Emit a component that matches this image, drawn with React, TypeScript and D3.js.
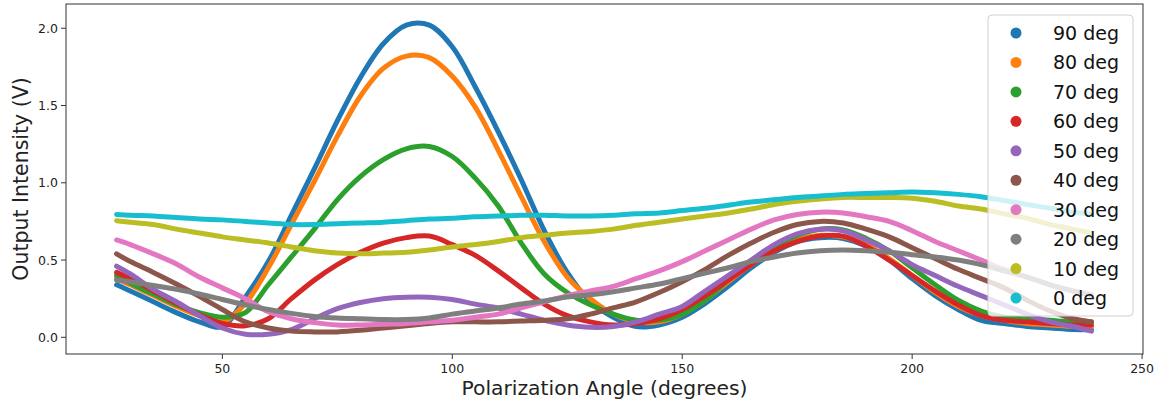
import React from "react";
import * as d3 from "d3";

const angles = [27, 30, 35, 40, 45, 50, 55, 60, 65, 70, 75, 80, 85, 90, 95, 100, 105, 110, 115, 120, 125, 130, 135, 140, 145, 150, 155, 160, 165, 170, 175, 180, 185, 190, 195, 200, 205, 210, 215, 220, 225, 230, 235, 239];

const deg90 = [0.34, 0.30, 0.23, 0.16, 0.10, 0.07, 0.26, 0.49, 0.79, 1.09, 1.40, 1.68, 1.90, 2.02, 2.02, 1.88, 1.62, 1.33, 1.02, 0.69, 0.42, 0.23, 0.13, 0.07, 0.08, 0.13, 0.22, 0.33, 0.45, 0.55, 0.62, 0.645, 0.64, 0.59, 0.50, 0.38, 0.27, 0.18, 0.11, 0.09, 0.07, 0.06, 0.05, 0.05];
const deg80 = [0.38, 0.34, 0.27, 0.20, 0.14, 0.10, 0.22, 0.45, 0.73, 1.01, 1.30, 1.56, 1.74, 1.82, 1.81, 1.69, 1.49, 1.21, 0.91, 0.62, 0.39, 0.25, 0.15, 0.10, 0.10, 0.15, 0.24, 0.36, 0.47, 0.56, 0.63, 0.66, 0.65, 0.60, 0.51, 0.40, 0.29, 0.20, 0.14, 0.11, 0.09, 0.08, 0.07, 0.07];
const deg70 = [0.40, 0.35, 0.28, 0.21, 0.16, 0.13, 0.16, 0.34, 0.52, 0.70, 0.89, 1.04, 1.15, 1.22, 1.235, 1.17, 1.03, 0.85, 0.61, 0.41, 0.29, 0.21, 0.15, 0.11, 0.11, 0.15, 0.24, 0.37, 0.49, 0.59, 0.66, 0.70, 0.695, 0.64, 0.56, 0.45, 0.34, 0.24, 0.17, 0.13, 0.12, 0.11, 0.10, 0.10];
const deg60 = [0.42, 0.38, 0.30, 0.22, 0.145, 0.09, 0.075, 0.12, 0.25, 0.37, 0.47, 0.55, 0.61, 0.645, 0.655, 0.60, 0.53, 0.43, 0.32, 0.215, 0.14, 0.10, 0.08, 0.09, 0.12, 0.18, 0.27, 0.37, 0.47, 0.56, 0.62, 0.655, 0.655, 0.59, 0.50, 0.40, 0.30, 0.21, 0.14, 0.11, 0.10, 0.09, 0.08, 0.08];
const deg50 = [0.46, 0.41, 0.31, 0.23, 0.14, 0.06, 0.02, 0.02, 0.05, 0.12, 0.185, 0.225, 0.25, 0.26, 0.26, 0.245, 0.215, 0.19, 0.15, 0.11, 0.08, 0.065, 0.07, 0.10, 0.15, 0.20, 0.30, 0.40, 0.50, 0.60, 0.67, 0.70, 0.69, 0.63, 0.56, 0.47, 0.40, 0.33, 0.27, 0.21, 0.15, 0.10, 0.07, 0.04];
const deg40 = [0.54, 0.49, 0.42, 0.345, 0.265, 0.18, 0.10, 0.06, 0.04, 0.035, 0.035, 0.045, 0.06, 0.075, 0.09, 0.10, 0.10, 0.10, 0.105, 0.11, 0.12, 0.15, 0.19, 0.23, 0.29, 0.36, 0.44, 0.53, 0.61, 0.68, 0.73, 0.75, 0.74, 0.70, 0.65, 0.58, 0.51, 0.44, 0.38, 0.32, 0.24, 0.17, 0.12, 0.10];
const deg30 = [0.63, 0.60, 0.54, 0.475, 0.39, 0.32, 0.25, 0.165, 0.12, 0.095, 0.08, 0.08, 0.085, 0.09, 0.10, 0.11, 0.13, 0.15, 0.19, 0.23, 0.27, 0.30, 0.33, 0.38, 0.43, 0.49, 0.56, 0.63, 0.70, 0.76, 0.795, 0.81, 0.805, 0.78, 0.75, 0.69, 0.62, 0.56, 0.50, 0.44, 0.39, 0.34, 0.30, 0.28];
const deg20 = [0.37, 0.36, 0.335, 0.31, 0.28, 0.245, 0.21, 0.18, 0.155, 0.135, 0.125, 0.12, 0.115, 0.115, 0.125, 0.15, 0.17, 0.19, 0.215, 0.235, 0.26, 0.275, 0.295, 0.32, 0.345, 0.38, 0.415, 0.45, 0.49, 0.52, 0.545, 0.56, 0.565, 0.56, 0.55, 0.535, 0.52, 0.50, 0.47, 0.43, 0.39, 0.34, 0.30, 0.27];
const deg10 = [0.755, 0.745, 0.73, 0.70, 0.675, 0.65, 0.63, 0.61, 0.585, 0.56, 0.545, 0.54, 0.545, 0.55, 0.565, 0.585, 0.60, 0.62, 0.645, 0.66, 0.675, 0.685, 0.70, 0.725, 0.745, 0.765, 0.785, 0.805, 0.83, 0.86, 0.88, 0.895, 0.905, 0.905, 0.905, 0.90, 0.88, 0.85, 0.83, 0.80, 0.77, 0.73, 0.70, 0.675];
const deg0 = [0.795, 0.79, 0.785, 0.775, 0.765, 0.76, 0.75, 0.74, 0.73, 0.73, 0.735, 0.74, 0.745, 0.755, 0.765, 0.77, 0.78, 0.785, 0.79, 0.79, 0.785, 0.785, 0.79, 0.80, 0.805, 0.82, 0.835, 0.855, 0.875, 0.89, 0.905, 0.915, 0.925, 0.93, 0.935, 0.94, 0.935, 0.925, 0.91, 0.885, 0.86, 0.835, 0.81, 0.80];

const seriesLabels = ["90 deg", "80 deg", "70 deg", "60 deg", "50 deg", "40 deg", "30 deg", "20 deg", "10 deg", "0 deg"];
const seriesValues = [deg90, deg80, deg70, deg60, deg50, deg40, deg30, deg20, deg10, deg0];
const colors = ["#1f77b4", "#ff7f0e", "#2ca02c", "#d62728", "#9467bd", "#8c564b", "#e377c2", "#7f7f7f", "#bcbd22", "#17becf"];

const xTicks = [50, 100, 150, 200, 250];
const yTicks = [0, 0.5, 1.0, 1.5, 2.0];

const W = 1166;
const H = 404;
const L = 66, R = 1143, T = 4, B = 354;
const FONT = "'DejaVu Sans', sans-serif";

export default function App() {
  const x = d3.scaleLinear().domain([16.0, 250.2]).range([L, R]);
  const y = d3.scaleLinear().domain([-0.108, 2.157]).range([B, T]);
  const line = d3
    .line<[number, number]>()
    .x((d) => x(d[0]))
    .y((d) => y(d[1]))
    .curve(d3.curveCatmullRom.alpha(0.5));

  const legX = 988, legY = 15, legW = 145, legH = 301;
  const entry0 = 33, entryStep = 29.45;

  return (
    <svg width={W} height={H} style={{ position: "absolute", left: 0, top: 0, background: "#fff" }} fontFamily={FONT}>
      <rect x={0} y={0} width={W} height={H} fill="#fff" />
      {seriesValues.map((vals, i) => {
        const pts = angles.map((a, j) => [a, vals[j]] as [number, number]);
        return (
          <path
            key={seriesLabels[i]}
            d={line(pts) || ""}
            fill="none"
            stroke={colors[i]}
            strokeWidth={5}
            strokeLinecap="round"
            strokeLinejoin="round"
          />
        );
      })}
      {/* frame */}
      <rect x={L} y={T} width={R - L} height={B - T} fill="none" stroke="#333" strokeWidth={1} />
      {/* x ticks */}
      {xTicks.map((t) => (
        <g key={"x" + t}>
          <line x1={x(t)} x2={x(t)} y1={B} y2={B + 5} stroke="#333" strokeWidth={1} />
          <text x={x(t)} y={B + 19} textAnchor="middle" fontSize={12.5} fill="#222">
            {String(t)}
          </text>
        </g>
      ))}
      {/* y ticks */}
      {yTicks.map((t) => (
        <g key={"y" + t}>
          <line x1={L - 5} x2={L} y1={y(t)} y2={y(t)} stroke="#333" strokeWidth={1} />
          <text x={L - 8} y={y(t) + 4.5} textAnchor="end" fontSize={12.5} fill="#222">
            {d3.format(".1f")(t)}
          </text>
        </g>
      ))}
      <text x={(L + R) / 2} y={395} textAnchor="middle" fontSize={20.3} fill="#222">
        Polarization Angle (degrees)
      </text>
      <text
        transform={`translate(28,${(T + B) / 2}) rotate(-90)`}
        textAnchor="middle"
        fontSize={20.5}
        fill="#222"
      >
        Output Intensity (V)
      </text>
      {/* legend */}
      <rect x={legX} y={legY} width={legW} height={legH} rx={4} fill="#fff" fillOpacity={0.8} stroke="#d0d0d0" strokeWidth={1} />
      {seriesLabels.map((lab, i) => {
        const cy = entry0 + i * entryStep;
        return (
          <g key={"leg" + lab}>
            <circle cx={1016} cy={cy} r={5.5} fill={colors[i]} />
            <text x={1053} y={cy + 7} fontSize={19} fill="#111">
              {lab}
            </text>
          </g>
        );
      })}
    </svg>
  );
}
